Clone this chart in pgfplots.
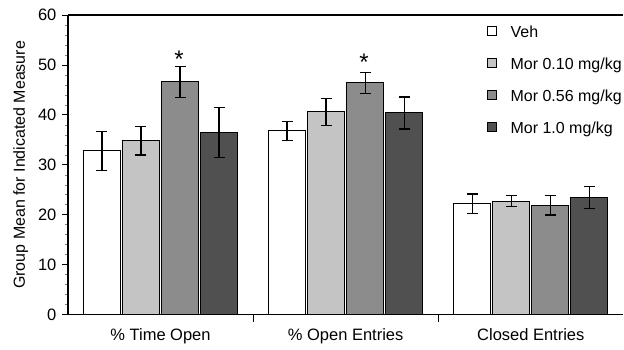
\documentclass[border=0pt]{standalone}
\usepackage{pgfplots}
\pgfplotsset{compat=1.18}
\usepackage{fontspec}
\setmainfont{Liberation Sans}
\definecolor{cA}{HTML}{FFFFFF}
\definecolor{cB}{HTML}{C4C4C4}
\definecolor{cC}{HTML}{8C8C8C}
\definecolor{cD}{HTML}{505050}
\begin{document}
\fontsize{16}{18}\selectfont
\begin{tikzpicture}[x=1pt,y=1pt]
\begin{axis}[
  scale only axis,
  width=556pt, height=300pt,
  ybar, bar width=0.2,
  xmin=-0.5, xmax=2.5,
  ymin=0, ymax=60,
  ytick={0,10,...,60},
  minor y tick num=4,
  xtick={0,1,2},
  xticklabels={\% Time Open, \% Open Entries, Closed Entries},
  major x tick style={draw=none},
  extra x ticks={0.5,1.5},
  extra x tick labels={},
  extra x tick style={major tick length=7pt, major x tick style={draw=black, line width=0.8pt}},
  axis x line*=box,
  axis y line*=left,
  xtick pos=bottom, ytick pos=left,
  tick align=outside,
  major tick length=6pt, minor tick length=3pt,
  axis line style={line width=1.3pt},
  major y tick style={black, line width=0.8pt},
  minor tick style={black!50, line width=0.6pt},
  ylabel={Group Mean for Indicated Measure},
  ylabel style={yshift=-1pt},
  /pgf/number format/assume math mode=true,
  tick label style={font=\fontsize{16.5}{18}\selectfont},
  label style={font=\fontsize{16}{18}\selectfont},
  xticklabel style={yshift=-2.5pt},
  legend style={draw=none, fill=none, at={(0.7545,0.968)}, anchor=north west,
    font=\fontsize{16}{18}\selectfont, row sep=18.5pt, inner sep=0pt,
    nodes={inner sep=1pt, text depth=0pt}},
  legend cell align=left,
  legend image code/.code={\draw[#1, line width=0.9pt] (0pt,-4pt) rectangle (9pt,5pt);
     \path[draw=none, fill=none] (0pt,0pt) -- (22pt,0pt);},
  error bars/error bar style={line width=1.3pt, black},
  error bars/error mark options={rotate=90, mark size=5.5pt, line width=1.3pt, black},
  clip=false,
  after end axis/.code={
    \path (rel axis cs:-0.1223,-0.0933) rectangle (rel axis cs:1.0,1.05);
  },
]
\addplot[fill=cA, draw=black, line width=0.9pt, error bars/.cd, y dir=both, y explicit] coordinates {
  (0,32.8) +- (0,3.9) (1,36.8) +- (0,1.9) (2,22.2) +- (0,1.95)};
\addplot[fill=cB, draw=black, line width=0.9pt, error bars/.cd, y dir=both, y explicit] coordinates {
  (0,34.8) +- (0,2.85) (1,40.6) +- (0,2.7) (2,22.7) +- (0,1.1)};
\addplot[fill=cC, draw=black, line width=0.9pt, error bars/.cd, y dir=both, y explicit] coordinates {
  (0,46.6) +- (0,3.1) (1,46.4) +- (0,2.05) (2,21.9) +- (0,1.95)};
\addplot[fill=cD, draw=black, line width=0.9pt, error bars/.cd, y dir=both, y explicit] coordinates {
  (0,36.5) +- (0,5.0) (1,40.4) +- (0,3.2) (2,23.4) +- (0,2.2)};
\legend{Veh, Mor 0.10 mg/kg, Mor 0.56 mg/kg, Mor 1.0 mg/kg}
\node[font=\fontsize{24}{24}\selectfont, anchor=base, inner sep=0pt] at (axis cs:0.1,49.4) {*};
\node[font=\fontsize{24}{24}\selectfont, anchor=base, inner sep=0pt] at (axis cs:1.1,48.8) {*};
\end{axis}
\end{tikzpicture}
\end{document}
